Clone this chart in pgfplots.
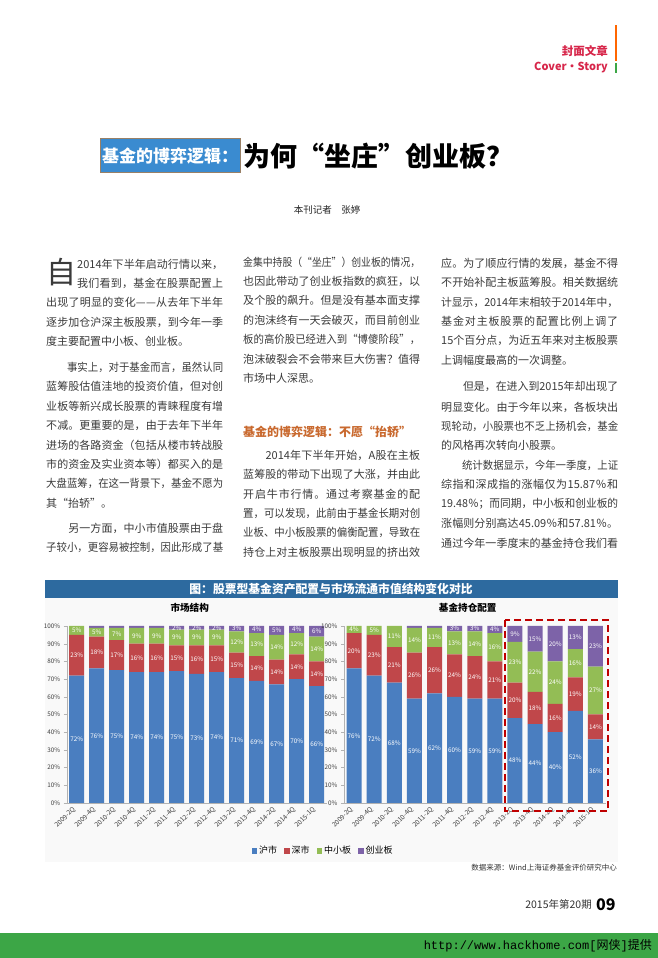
\documentclass[border=0pt]{standalone}
\usepackage{fontspec}
\setmainfont{Noto Sans CJK SC}
\newfontfamily\monofont{Liberation Mono}
\usepackage{graphicx}
\usepackage{pgfplots}
\pgfplotsset{compat=1.18}
\XeTeXinterchartokenstate=1
\count255="4E00
\loop\ifnum\count255<"A000 \XeTeXcharclass\count255=8 \advance\count255 by 1 \repeat
\count255="3000
\loop\ifnum\count255<"3040 \XeTeXcharclass\count255=8 \advance\count255 by 1 \repeat
\count255="FF00
\loop\ifnum\count255<"FFF0 \XeTeXcharclass\count255=8 \advance\count255 by 1 \repeat
\XeTeXcharclass"2014=8 \XeTeXcharclass"201C=8 \XeTeXcharclass"201D=8
\XeTeXinterchartoks 8 8 = {\hskip0pt plus 1pt\relax}
\XeTeXinterchartoks 0 8 = {\hskip0pt plus 1pt\relax}
\XeTeXinterchartoks 8 0 = {\hskip0pt plus 1pt\relax}
\definecolor{cblue}{HTML}{4A7EC0}
\definecolor{cred}{HTML}{C0474A}
\definecolor{cgreen}{HTML}{93BD55}
\definecolor{cpurple}{HTML}{7D63A8}
\definecolor{barblue}{HTML}{2D6A9F}
\definecolor{tblue}{HTML}{3A8BD0}
\definecolor{bodytext}{HTML}{3A3A3A}
\definecolor{headorange}{HTML}{C9692E}
\definecolor{topred}{HTML}{D7264A}
\definecolor{bandgreen}{HTML}{3CA646}
\newsavebox\lb
\newcommand\TJ[4]{\node[anchor=west,inner sep=0pt] at (#1,958-#2) {\sbox\lb{#4}\ifdim\wd\lb<#3pt\makebox[#3pt][s]{#4}\else\resizebox{#3pt}{\height}{#4}\fi};}
\newcommand\TL[3]{\node[anchor=west,inner sep=0pt] at (#1,958-#2) {#3};}
\pgfplotsset{
  pagebars/.style={
    scale only axis, width=260pt, height=177pt, anchor=south west,
    ybar stacked, bar width=15pt,
    xmin=-0.5, xmax=12.5, ymin=0, ymax=100,
    xtick={0,...,12},
    xticklabels={2009-2Q,2009-4Q,2010-2Q,2010-4Q,2011-2Q,2011-4Q,2012-2Q,2012-4Q,2013-2Q,2013-4Q,2014-2Q,2014-4Q,2015-1Q},
    x tick label style={rotate=45, anchor=east, font=\fontsize{6.6}{7}\selectfont, text=black!75},
    y tick label style={font=\fontsize{6.3}{7}\selectfont, text=black!75},
    ytick={0,10,...,100},
    yticklabel={\pgfmathprintnumber{\tick}\%},
    /pgf/number format/assume math mode=true,
    axis lines*=left, axis line style={-, gray!60},
    tick align=outside, major tick length=3pt,
    ytick style={gray!60}, xtick style={draw=none},
    point meta=explicit symbolic,
    nodes near coords={\if x\pgfplotspointmeta\else\pgfplotspointmeta\%\fi},
    every node near coord/.append style={anchor=center, inner sep=0pt,
      font=\fontsize{6.3}{7}\selectfont, text=white},
    title style={font=\fontsize{9.6}{11}\selectfont\bfseries, anchor=south, inner sep=0pt, yshift=7pt, xshift=-7pt},
    clip=false,
  }
}
\begin{document}
\begin{tikzpicture}[x=1pt,y=1pt]
\fill[white] (0,0) rectangle (658,958);
\useasboundingbox (0,0) rectangle (658,958);
% top right
\fill[orange!80!red] (615,958-25) rectangle (617,958-61);
\fill[bandgreen] (615,958-63) rectangle (617,958-73);
\node[anchor=east, inner sep=0pt, text=topred, font=\fontsize{11.5}{13}\selectfont\bfseries] at (608,958-51) {封面文章};
\node[anchor=east, inner sep=0pt, text=topred, font=\fontsize{11}{13}\selectfont\bfseries] at (608,958-68) {Cover·Story};
% title
\filldraw[fill=tblue, draw=gray!60!brown, line width=1pt] (100,958-139) rectangle (240,958-173);
\node[text=white, inner sep=0pt, font=\fontsize{17}{20}\selectfont\bfseries] at (170,958-156) {基金的博弈逻辑：};
\node[anchor=west, inner sep=0pt, font=\fontsize{27}{30}\selectfont\bfseries] at (243,958-156) {为何“坐庄”创业板？};
\node[inner sep=0pt, font=\fontsize{9.5}{11}\selectfont, text=black!85] at (327,958-210) {本刊记者　张婷};
% body
\begin{scope}[font=\fontsize{11}{13}\selectfont, text=bodytext]
\node[inner sep=0pt, font=\fontsize{30}{32}\selectfont] at (61,958-272) {自};
\TJ{77}{264}{146}{2014年下半年启动行情以来，}
\TJ{77}{283.4}{146}{我们看到，基金在股票配置上}
\TJ{46}{302.8}{177}{出现了明显的变化——从去年下半年}
\TJ{46}{322.2}{177}{逐步加仓沪深主板股票，到今年一季}
\TL{46}{341.6}{度主要配置中小板、创业板。}
\TJ{46}{367.5}{177}{　　事实上，对于基金而言，虽然认同}
\TJ{46}{386.9}{177}{蓝筹股估值洼地的投资价值，但对创}
\TJ{46}{406.3}{177}{业板等新兴成长股票的青睐程度有增}
\TJ{46}{425.7}{177}{不减。更重要的是，由于去年下半年}
\TJ{46}{445.1}{177}{进场的各路资金（包括从楼市转战股}
\TJ{46}{464.5}{177}{市的资金及实业资本等）都买入的是}
\TJ{46}{483.9}{177}{大盘蓝筹，在这一背景下，基金不愿为}
\TL{46}{503.3}{其“抬轿”。}
\TJ{46}{528.0}{177}{　　另一方面，中小市值股票由于盘}
\TJ{46}{547.6}{177}{子较小，更容易被控制，因此形成了基}
%
\TJ{243}{262}{177}{金集中持股（“坐庄”）创业板的情况，}
\TJ{243}{281.4}{177}{也因此带动了创业板指数的疯狂，以}
\TJ{243}{300.8}{177}{及个股的飙升。但是没有基本面支撑}
\TJ{243}{320.2}{177}{的泡沫终有一天会破灭，而目前创业}
\TJ{243}{339.6}{177}{板的高价股已经进入到“博傻阶段”，}
\TJ{243}{359.0}{177}{泡沫破裂会不会带来巨大伤害？值得}
\TL{243}{378.4}{市场中人深思。}
\node[anchor=west, inner sep=0pt, text=headorange, font=\fontsize{12}{14}\selectfont\bfseries] at (243,958-432) {基金的博弈逻辑：不愿“抬轿”};
\TJ{243}{455}{177}{　　2014年下半年开始，A股在主板}
\TJ{243}{474.4}{177}{蓝筹股的带动下出现了大涨，并由此}
\TJ{243}{493.8}{177}{开启牛市行情。通过考察基金的配}
\TJ{243}{513.2}{177}{置，可以发现，此前由于基金长期对创}
\TJ{243}{532.6}{177}{业板、中小板股票的偏衡配置，导致在}
\TJ{243}{552.0}{177}{持仓上对主板股票出现明显的挤出效}
%
\TJ{441}{263.3}{177}{应。为了顺应行情的发展，基金不得}
\TJ{441}{282.7}{177}{不开始补配主板蓝筹股。相关数据统}
\TJ{441}{302.1}{177}{计显示，2014年末相较于2014年中，}
\TJ{441}{321.5}{177}{基金对主板股票的配置比例上调了}
\TJ{441}{340.9}{177}{15个百分点，为近五年来对主板股票}
\TL{441}{360.3}{上调幅度最高的一次调整。}
\TJ{441}{386.5}{177}{　　但是，在进入到2015年却出现了}
\TJ{441}{407}{177}{明显变化。由于今年以来，各板块出}
\TJ{441}{426.4}{177}{现轮动，小股票也不乏上扬机会，基金}
\TL{441}{445.8}{的风格再次转向小股票。}
\TJ{441}{465.2}{177}{　　统计数据显示，今年一季度，上证}
\TJ{441}{484.6}{177}{综指和深成指的涨幅仅为15.87％和}
\TJ{441}{504}{177}{19.48％；而同期，中小板和创业板的}
\TJ{441}{523.4}{177}{涨幅则分别高达45.09％和57.81％。}
\TJ{441}{542.8}{177}{通过今年一季度末的基金持仓我们看}
\end{scope}
% chart panel
\fill[gray!5] (45,958-598) rectangle (618,958-862);
\fill[barblue] (45,958-580) rectangle (618,958-598);
\node[text=white, inner sep=0pt, font=\fontsize{11.8}{13}\selectfont\bfseries] at (331,958-589.5) {图：股票型基金资产配置与市场流通市值结构变化对比};
% left chart
\begin{axis}[pagebars, at={(66.7pt,155pt)}, title={市场结构},
  legend style={at={(0.986,-0.27)}, anchor=center, draw=none, fill=none, legend columns=4,
    font=\fontsize{9}{10}\selectfont, /tikz/every even column/.append style={column sep=5pt},
    inner sep=0pt},
  legend image code/.code={\fill[#1] (0pt,-2.8pt) rectangle (5.5pt,2.8pt);}]
\addplot[fill=cblue, draw=none] table[x=x,y=y,meta=l] {
x y l
0 72 72
1 76 76
2 75 75
3 74 74
4 74 74
5 74.5 75
6 73 73
7 74 74
8 70.5 71
9 69 69
10 67 67
11 70 70
12 66 66
};
\addplot[fill=cred, draw=none] table[x=x,y=y,meta=l] {
x y l
0 23 23
1 18 18
2 17 17
3 16 16
4 16 16
5 14.5 15
6 16 16
7 15 15
8 14.5 15
9 14 14
10 14 14
11 14 14
12 14 14
};
\addplot[fill=cgreen, draw=none] table[x=x,y=y,meta=l] {
x y l
0 5 5
1 5 5
2 7 7
3 9 9
4 9 9
5 9 9
6 9 9
7 9 9
8 12 12
9 13 13
10 14 14
11 12 12
12 14 14
};
\addplot[fill=cpurple, draw=none] table[x=x,y=y,meta=l] {
x y l
0 0 x
1 1 x
2 1 x
3 1 x
4 1 x
5 2 2
6 2 2
7 2 2
8 3 3
9 4 4
10 5 5
11 4 4
12 6 6
};
\legend{沪市,深市,中小板,创业板}
\end{axis}
% right chart
\begin{axis}[pagebars, at={(344pt,155pt)}, width=261.5pt, title={基金持仓配置}]
\addplot[fill=cblue, draw=none] table[x=x,y=y,meta=l] {
x y l
0 76 76
1 72 72
2 68 68
3 59 59
4 62 62
5 60 60
6 59 59
7 59 59
8 48 48
9 44.5 44
10 40 40
11 52 52
12 36 36
};
\addplot[fill=cred, draw=none] table[x=x,y=y,meta=l] {
x y l
0 20 20
1 23 23
2 20 21
3 26 26
4 26 26
5 24 24
6 24 24
7 21 21
8 20 20
9 18.3 18
10 16 16
11 19 19
12 14 14
};
\addplot[fill=cgreen, draw=none] table[x=x,y=y,meta=l] {
x y l
0 4 4
1 5 5
2 12 11
3 14 14
4 11 11
5 13 13
6 14 14
7 16 16
8 23 23
9 22.7 22
10 24 24
11 16 16
12 27 27
};
\addplot[fill=cpurple, draw=none] table[x=x,y=y,meta=l] {
x y l
0 0 x
1 0 x
2 0 x
3 1 x
4 1 x
5 3 3
6 3 3
7 4 4
8 9 9
9 14.5 15
10 20 20
11 13 13
12 23 23
};
\draw[draw=red!75!black, line width=2pt, dash pattern=on 7pt off 4pt] (axis cs:7.51,103.4) rectangle (axis cs:12.63,-4.5);
\end{axis}
% source and footer
\node[anchor=east, inner sep=0pt, font=\fontsize{7.5}{9}\selectfont, text=black!80] at (617,958-868) {数据来源：Wind上海证券基金评价研究中心};
\node[anchor=east, inner sep=0pt, font=\fontsize{10.5}{12}\selectfont, text=black!80] at (592,958-905) {2015年第20期};
\node[anchor=west, inner sep=0pt, font=\fontsize{16}{18}\selectfont\bfseries] at (596,958-905) {09};
\fill[bandgreen] (0,0) rectangle (658,958-933);
\node[anchor=east, inner sep=0pt, font=\fontsize{12}{14}\selectfont\monofont] at (652,958-946) {http://www.hackhome.com[{\rmfamily 网侠}]{\rmfamily 提供}};
\end{tikzpicture}
\end{document}
